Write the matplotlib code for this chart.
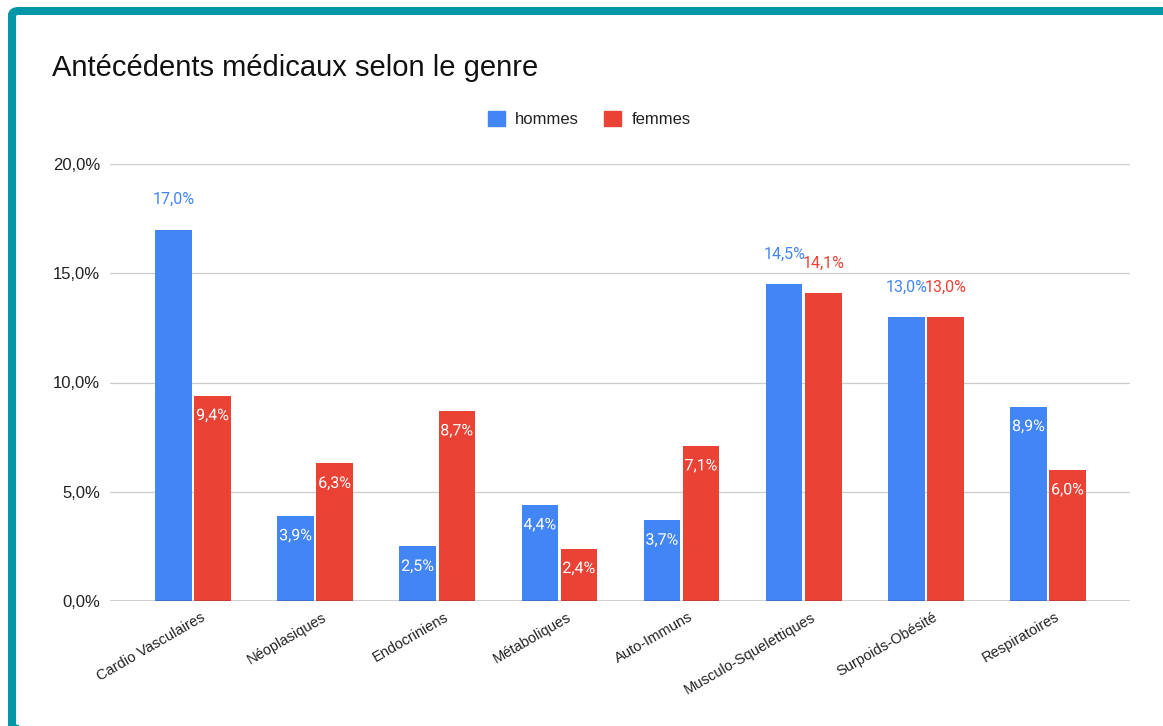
import matplotlib
matplotlib.use('Agg')
import matplotlib.pyplot as plt
import matplotlib.patheffects as pe
from matplotlib.patches import Patch, FancyBboxPatch
from matplotlib.transforms import offset_copy
import numpy as np

categories = ['Cardio Vasculaires', 'Néoplasiques', 'Endocriniens', 'Métaboliques',
              'Auto-Immuns', 'Musculo-Squelettiques', 'Surpoids-Obésité', 'Respiratoires']
hommes = [17.0, 3.9, 2.5, 4.4, 3.7, 14.5, 13.0, 8.9]
femmes = [9.4, 6.3, 8.7, 2.4, 7.1, 14.1, 13.0, 6.0]
series_names = ['hommes', 'femmes']
yticks = [0, 5, 10, 15, 20]

BLUE = '#4285f4'
RED = '#ea4335'
TEAL = '#0397a7'
W, H = 1163, 726


def pct(v):
    return f"{v:.1f}%".replace('.', ',')


def plot_chart(fname='out.png'):
    plt.rcParams['font.family'] = ['Liberation Sans', 'DejaVu Sans']
    fig = plt.figure(figsize=(W / 100, H / 100), dpi=100)
    ax = fig.add_axes([110 / W, 1 - 601 / H, 1020 / W, 437 / H])

    x = np.arange(len(categories))
    bw, off = 0.299, 0.16
    for vals, color, sign in ((hommes, BLUE, -1), (femmes, RED, 1)):
        bars = ax.bar(x + sign * off, vals, bw, color=color, zorder=3)
        for b, v in zip(bars, vals):
            cx = b.get_x() + b.get_width() / 2
            if v >= 10:
                ax.annotate(pct(v), (cx, v), xytext=(0, 21.6), textcoords='offset points',
                            ha='center', va='center', color=color, fontsize=11.5,
                            family='Roboto', zorder=4)
            else:
                ax.annotate(pct(v), (cx, v), xytext=(0, -14.4), textcoords='offset points',
                            ha='center', va='center', color='white', fontsize=11.5,
                            family='Roboto', zorder=4,
                            path_effects=[pe.withStroke(linewidth=2.5, foreground=color)])

    ax.set_xlim(-0.6795, 7.671)
    ax.set_ylim(0, 20)
    ax.set_yticks(yticks)
    ax.set_yticklabels([pct(v) for v in yticks], fontsize=12, color='#222222')
    ax.tick_params(axis='y', length=0, pad=7.2)
    ax.set_xticks([])
    ax.yaxis.grid(True, color='#cccccc', lw=0.9)
    ax.set_axisbelow(True)
    for s in ax.spines.values():
        s.set_visible(False)
    ax.axhline(0, color='#333333', lw=1.0, zorder=5)

    # slanted category labels
    tr = offset_copy(ax.get_xaxis_transform(), fig=fig, x=7, y=-9, units='dots')
    for i, name in enumerate(categories):
        ax.text(x[i], 0, name, transform=tr, rotation=30, rotation_mode='anchor',
                ha='right', va='top', fontsize=10.5, color='#222222')

    fig.text(52 / W, 1 - 68 / H, 'Antécédents médicaux selon le genre',
             fontsize=21, color='#111111', va='center', ha='left')

    handles = [Patch(color=BLUE, label=series_names[0]),
               Patch(color=RED, label=series_names[1])]
    fig.legend(handles=handles, loc='center', bbox_to_anchor=(589 / W, 1 - 119 / H),
               ncol=2, frameon=False, fontsize=12, handlelength=1.05, handleheight=1.05,
               handletextpad=0.6, columnspacing=1.5, labelcolor='#222222')

    # teal card border (left, top, bottom edges visible)
    border = FancyBboxPatch((12 / W, 1 - 729 / H), 1200 / W, 718 / H,
                            boxstyle='round,pad=0,rounding_size=0.006',
                            transform=fig.transFigure, fill=False,
                            edgecolor=TEAL, lw=5.8, clip_on=False)
    fig.add_artist(border)

    fig.savefig(fname, dpi=100)
    plt.close(fig)


if __name__ == '__main__':
    plot_chart()
